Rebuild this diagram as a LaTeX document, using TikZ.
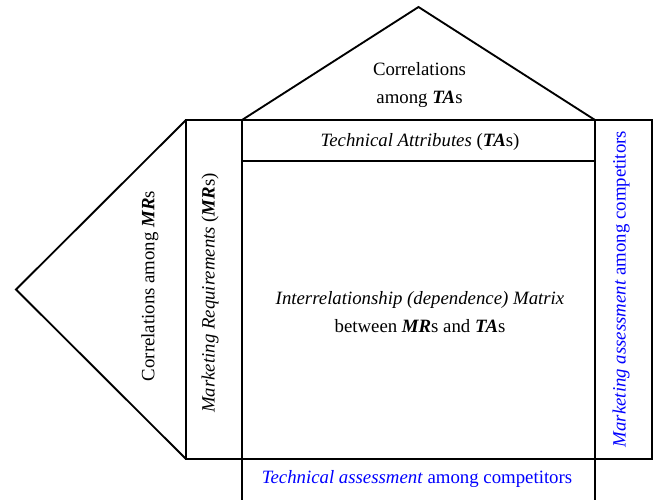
\documentclass[tikz,border=0pt]{standalone}
\usepackage{fontspec}
\setmainfont{Liberation Serif}
\newcommand{\bi}[1]{\textbf{\textit{#1}}}
\begin{document}
\begin{tikzpicture}[x=0.75pt,y=-0.75pt,
  edge/.style={line width=1.4pt,line join=miter},
  lbl/.style={font=\fontsize{14.1}{21}\selectfont,align=center,inner sep=0pt},
  blbl/.style={lbl,text=blue}]
\useasboundingbox (0,0) rectangle (656,500);
% corners
\coordinate (tl) at (186,120);
\coordinate (bl) at (186,459);
\coordinate (mtl) at (242,120);
\coordinate (mbl) at (242,459);
\coordinate (mtr) at (595,120);
\coordinate (mbr) at (595,459);
\coordinate (rtr) at (652,120);
\coordinate (rbr) at (652,459);
\coordinate (apexT) at (418.5,7);
\coordinate (apexL) at (16,289.5);
\coordinate (bandL) at (242,161);
\coordinate (bandR) at (595,161);
\coordinate (botL) at (242,500);
\coordinate (botR) at (595,500);
% outline
\draw[edge] (tl) -- (rtr) -- (rbr) -- (bl) -- cycle;
\draw[edge] (tl) -- (apexL) -- (bl);
\draw[edge] (mtl) -- (apexT) -- (mtr);
\draw[edge] (mtl) -- (botL);
\draw[edge] (mtr) -- (botR);
\draw[edge] (bandL) -- (bandR);
% texts
\node[lbl] (corrTA) at (419.5,85) {Correlations\\among \bi{TA}s};
\node[lbl] (techA) at (420,142) {\textit{Technical Attributes} (\bi{TA}s)};
\node[lbl] (matrix) at (420,312) {\textit{Interrelationship (dependence) Matrix}\\between \bi{MR}s and \bi{TA}s};
\node[lbl,rotate=90] (corrMR) at (150,286) {Correlations among \bi{MR}s};
\node[lbl,rotate=90] (mreq) at (210,293) {\textit{Marketing Requirements} (\bi{MR}s)};
\node[blbl,rotate=90] (massess) at (621,289) {\textit{Marketing assessment} among competitors};
\node[blbl] (tassess) at (417,479) {\textit{Technical assessment} among competitors};
\end{tikzpicture}
\end{document}
